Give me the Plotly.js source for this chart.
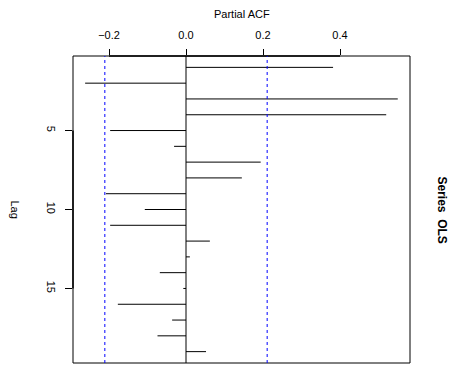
<!DOCTYPE html>
<html>
<head>
<meta charset="utf-8">
<script src="https://cdn.plot.ly/plotly-3.0.1.min.js"></script>
<style>html,body{margin:0;padding:0;background:#fff;}#chart{width:457px;height:366px;}</style>
</head>
<body>
<div id="chart"></div>
<script>
const lags = [1,2,3,4,5,6,7,8,9,10,11,12,13,14,15,16,17,18,19];
const pacf = [0.382,-0.262,0.550,0.520,-0.197,-0.031,0.194,0.145,-0.208,-0.107,-0.197,0.062,0.010,-0.068,-0.007,-0.177,-0.036,-0.074,0.052];
const confBound = 0.2108;
const xTicks = [-0.2, 0.0, 0.2, 0.4];
const xTickText = ['\u22120.2', '0.0', '0.2', '0.4'];
const yTicks = [5, 10, 15];

const xs = [], ys = [];
lags.forEach((l, i) => { xs.push(0, pacf[i], null); ys.push(l, l, null); });

const font = {family: 'Liberation Sans, Arial, sans-serif', color: '#000', size: 11};

const trace = {
  x: xs, y: ys, type: 'scatter', mode: 'lines',
  line: {color: '#000', width: 1}, hoverinfo: 'skip', showlegend: false
};

const layout = {
  width: 457, height: 366,
  margin: {l: 73, r: 47, t: 56, b: 3},
  paper_bgcolor: '#fff', plot_bgcolor: '#fff',
  font: font,
  showlegend: false,
  xaxis: {
    side: 'top', range: [-0.2935, 0.5818], tickvals: xTicks, ticktext: xTickText,
    ticks: 'outside', ticklen: 6, tickcolor: '#000', tickwidth: 1,
    ticklabelstandoff: 6,
    showgrid: false, zeroline: false, showline: false,
    tickfont: {family: font.family, size: 11, color: '#000'}
  },
  yaxis: {
    range: [19.72, 0.28], tickvals: yTicks, ticktext: yTicks.map(String),
    ticks: 'outside', ticklen: 7, tickcolor: '#000', tickwidth: 1, tickangle: 90,
    ticklabelstandoff: 5,
    showgrid: false, zeroline: false, showline: false,
    tickfont: {family: font.family, size: 11, color: '#000'}
  },
  shapes: [
    {type: 'rect', xref: 'paper', yref: 'paper', x0: 0, x1: 1, y0: 0, y1: 1, line: {color: '#000', width: 1}},
    {type: 'line', xref: 'x', yref: 'paper', x0: xTicks[0], x1: xTicks[xTicks.length-1], y0: 1, y1: 1, line: {color: '#000', width: 1.5}},
    {type: 'line', xref: 'paper', yref: 'y', x0: 0, x1: 0, y0: yTicks[0], y1: yTicks[yTicks.length-1], line: {color: '#000', width: 1.5}},
    {type: 'line', xref: 'x', yref: 'paper', x0: 0, x1: 0, y0: 0, y1: 1, line: {color: '#000', width: 1}},
    {type: 'line', xref: 'x', yref: 'paper', x0: -confBound, x1: -confBound, y0: 0, y1: 1, line: {color: '#0000FF', width: 1, dash: '3px,3px'}},
    {type: 'line', xref: 'x', yref: 'paper', x0: confBound, x1: confBound, y0: 0, y1: 1, line: {color: '#0000FF', width: 1, dash: '3px,3px'}}
  ],
  annotations: [
    {text: 'Partial ACF', xref: 'paper', yref: 'paper', x: 0.5, y: 1, yshift: 42, showarrow: false, xanchor: 'center', yanchor: 'middle', font: {family: font.family, size: 11, color: '#000'}},
    {text: 'Lag', xref: 'paper', yref: 'paper', x: 0, xshift: -58, y: 0.5, showarrow: false, textangle: 90, xanchor: 'center', yanchor: 'middle', font: {family: font.family, size: 11, color: '#000'}},
    {text: '<b>Series  OLS</b>', xref: 'paper', yref: 'paper', x: 1, xshift: 32, y: 0.5, showarrow: false, textangle: 90, xanchor: 'center', yanchor: 'middle', font: {family: font.family, size: 12, color: '#000'}}
  ]
};

Plotly.newPlot('chart', [trace], layout, {staticPlot: true, displayModeBar: false});
</script>
</body>
</html>
